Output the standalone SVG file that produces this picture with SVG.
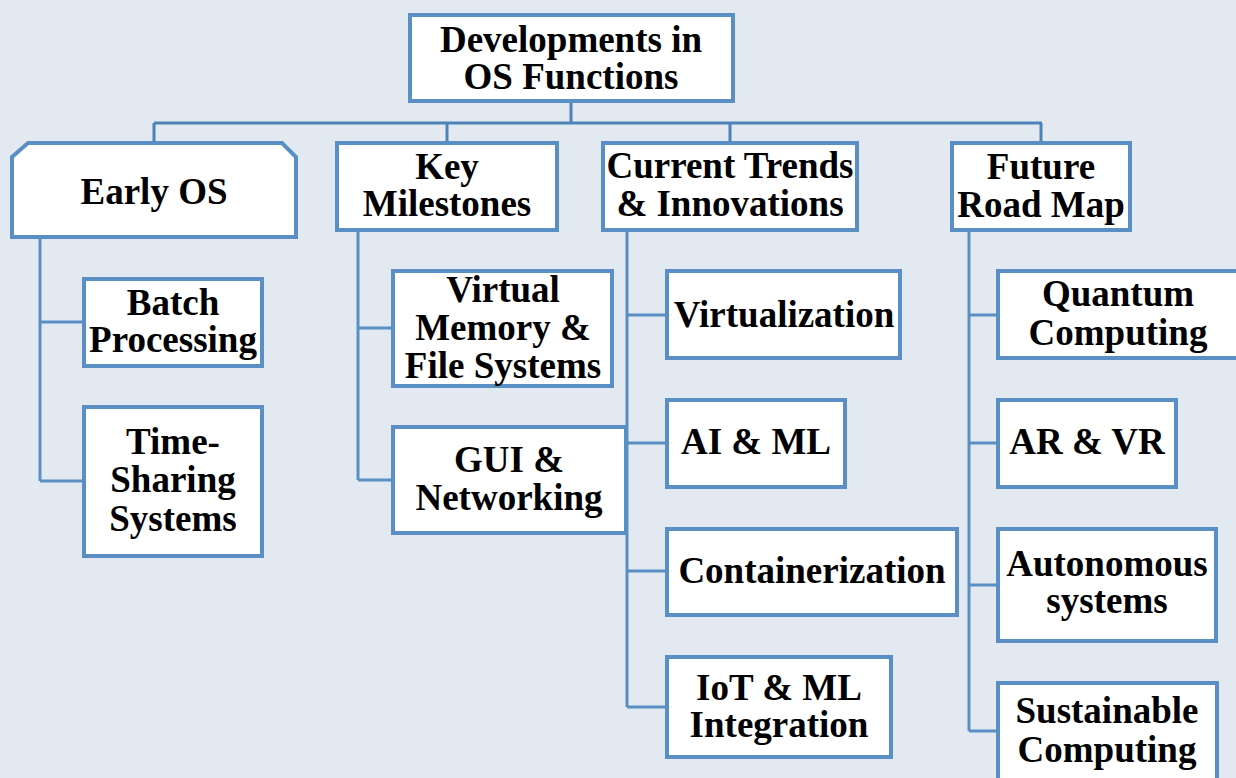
<svg xmlns="http://www.w3.org/2000/svg" width="1236" height="778" viewBox="0 0 1236 778">
<style>
.bx{fill:#ffffff;stroke:#5a8fc5;stroke-width:4}
.ln{fill:none;stroke:#5a8fc5;stroke-width:3}
.bus{fill:none;stroke:#4d83b8;stroke-width:3}
text{font-family:"Liberation Serif","Times New Roman",serif;font-weight:bold;font-size:37px;fill:#000;text-anchor:middle}
</style>
<rect width="1236" height="778" fill="#e2e9f1"/>
<g id="connectors">
<path class="bus" d="M571,103 V123 M154,123 H1042 M154,123 V141 M447,123 V141 M730,123 V141 M1041,123 V141"/>
<path class="ln" d="M40,239 V481 M40,322 H82 M40,481 H82"/>
<path class="ln" d="M358,232 V480 M358,328 H392 M358,480 H392"/>
<path class="ln" d="M627,232 V707 M627,315 H665 M627,443 H665 M627,571 H665 M627,707 H665"/>
<path class="ln" d="M969,232 V731 M969,315 H996 M969,443 H996 M969,585 H996 M969,731 H996"/>
</g>
<g id="root"><rect class="bx" x="410" y="15" width="323" height="86"/><text x="571" y="52">Developments in</text><text x="571" y="89">OS Functions</text></g>
<g id="early-os"><path class="bx" d="M12,157 L28,143 L282,143 L296,157 L296,237 L12,237 Z"/><text x="154" y="204">Early OS</text></g>
<g id="key-milestones"><rect class="bx" x="337" y="143" width="220" height="87"/><text x="447" y="179">Key</text><text x="447" y="216">Milestones</text></g>
<g id="current-trends"><rect class="bx" x="603" y="143" width="254" height="87"/><text x="730" y="178">Current Trends</text><text x="730" y="216">&amp; Innovations</text></g>
<g id="future-road-map"><rect class="bx" x="952" y="143" width="178" height="87"/><text x="1041" y="179">Future</text><text x="1041" y="217">Road Map</text></g>
<g id="batch-processing"><rect class="bx" x="84" y="279" width="178" height="87"/><text x="173" y="315">Batch</text><text x="173" y="352">Processing</text></g>
<g id="time-sharing"><rect class="bx" x="84" y="407" width="178" height="149"/><text x="173" y="454">Time-</text><text x="173" y="492">Sharing</text><text x="173" y="531">Systems</text></g>
<g id="virtual-memory"><rect class="bx" x="393" y="271" width="219" height="115"/><text x="503" y="302">Virtual</text><text x="503" y="340">Memory &amp;</text><text x="503" y="378">File Systems</text></g>
<g id="gui-networking"><rect class="bx" x="393" y="427" width="233" height="106"/><text x="509" y="472">GUI &amp;</text><text x="509" y="510">Networking</text></g>
<g id="virtualization"><rect class="bx" x="667" y="271" width="233" height="87"/><text x="784" y="327">Virtualization</text></g>
<g id="ai-ml"><rect class="bx" x="667" y="400" width="178" height="87"/><text x="756" y="454">AI &amp; ML</text></g>
<g id="containerization"><rect class="bx" x="667" y="529" width="290" height="86"/><text x="812" y="583">Containerization</text></g>
<g id="iot-ml"><rect class="bx" x="667" y="657" width="224" height="100"/><text x="779" y="700">IoT &amp; ML</text><text x="779" y="737">Integration</text></g>
<g id="quantum"><rect class="bx" x="998" y="271" width="250" height="87"/><text x="1118" y="306">Quantum</text><text x="1118" y="345">Computing</text></g>
<g id="ar-vr"><rect class="bx" x="998" y="400" width="178" height="87"/><text x="1087" y="454">AR &amp; VR</text></g>
<g id="autonomous"><rect class="bx" x="998" y="529" width="218" height="112"/><text x="1107" y="576">Autonomous</text><text x="1107" y="613">systems</text></g>
<g id="sustainable"><rect class="bx" x="998" y="683" width="219" height="120"/><text x="1107" y="723">Sustainable</text><text x="1107" y="762">Computing</text></g>
</svg>
